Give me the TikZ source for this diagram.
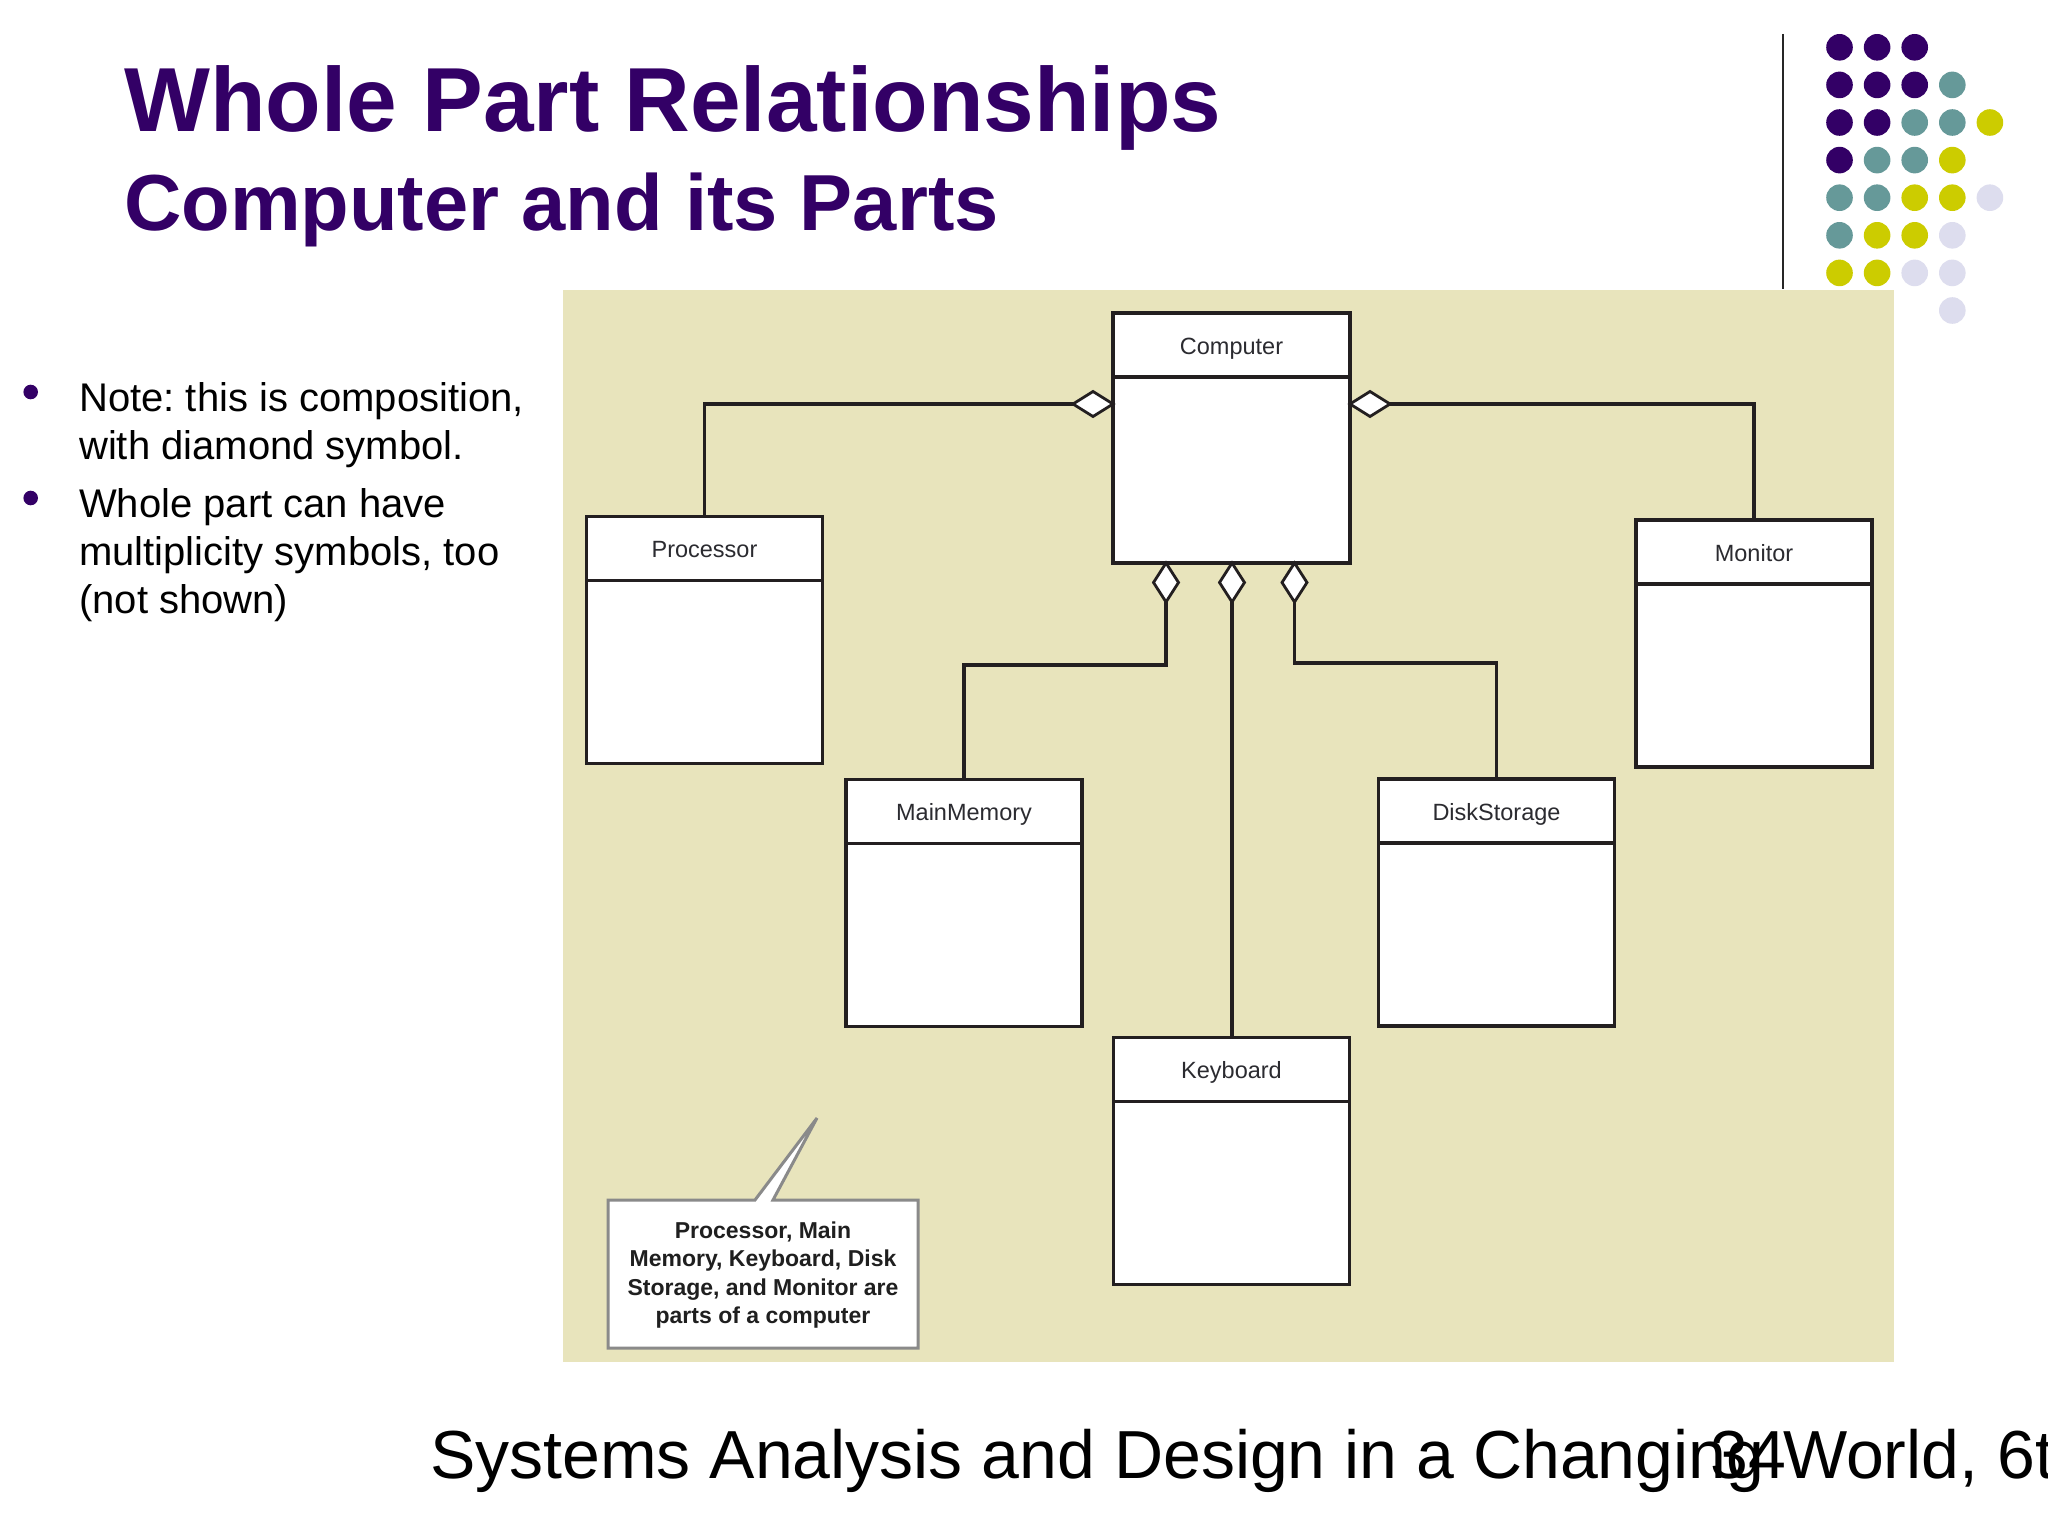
\documentclass[tikz,border=0pt]{standalone}
\usepackage{fontspec}
\setmainfont{Liberation Sans}
\usetikzlibrary{shapes.geometric}
\definecolor{ttl}{HTML}{330066}
\definecolor{dpur}{HTML}{330066}
\definecolor{dteal}{HTML}{669999}
\definecolor{dyel}{HTML}{CCCC00}
\definecolor{dlav}{HTML}{DDDDEE}
\definecolor{panel}{HTML}{E8E4BC}
\definecolor{umlline}{HTML}{231F20}
\definecolor{umltext}{HTML}{2B2B30}
\definecolor{notegray}{HTML}{8A8A8A}
\frenchspacing
\begin{document}
\begin{tikzpicture}[x=1pt,y=-1pt,
  classbox/.style={draw=umlline, line width=3.3pt, fill=white, minimum width=236pt, minimum height=247pt, inner sep=0pt, outer sep=0pt},
  classname/.style={text=umltext, font=\fontsize{23.5}{28}\selectfont, inner sep=0pt, anchor=base},
  agg/.style={diamond, draw=umlline, fill=white, line width=2.8pt, inner sep=0pt, outer sep=0pt},
  hagg/.style={agg, minimum width=40pt, minimum height=25pt},
  vagg/.style={agg, minimum width=25pt, minimum height=39pt},
  link/.style={draw=umlline, line width=3.3pt},
  bdot/.style={circle, inner sep=0pt, minimum size=26.6pt},
  titlefont/.style={text=ttl, inner sep=0pt, anchor=base west},
  bullettext/.style={inner sep=0pt, anchor=base west, font=\fontsize{40}{48}\selectfont},
  notetext/.style={inner sep=0pt, anchor=base, text=black!88, font=\bfseries\fontsize{23}{28}\selectfont},
  foot/.style={inner sep=0pt, anchor=base west, font=\fontsize{68}{80}\selectfont}
]
\useasboundingbox (0,0) rectangle (2048,1536);
\clip (0,0) rectangle (2048,1536);
\fill[white] (0,0) rectangle (2048,1536);

% panel
\fill[panel] (563,290) rectangle (1894,1362);

% decorative line and dots
\draw[line width=2pt, black!85] (1783,34) -- (1783,289);
\foreach \c [count=\i from 0] in {dpur,dpur,dpur}{\node[bdot, fill=\c] (r0c\i) at (1839.5+37.6*\i, 47.3) {};}
\foreach \c [count=\i from 0] in {dpur,dpur,dpur,dteal}{\node[bdot, fill=\c] (r1c\i) at (1839.5+37.6*\i, 84.9) {};}
\foreach \c [count=\i from 0] in {dpur,dpur,dteal,dteal,dyel}{\node[bdot, fill=\c] (r2c\i) at (1839.5+37.6*\i, 122.5) {};}
\foreach \c [count=\i from 0] in {dpur,dteal,dteal,dyel}{\node[bdot, fill=\c] (r3c\i) at (1839.5+37.6*\i, 160.1) {};}
\foreach \c [count=\i from 0] in {dteal,dteal,dyel,dyel,dlav}{\node[bdot, fill=\c] (r4c\i) at (1839.5+37.6*\i, 197.7) {};}
\foreach \c [count=\i from 0] in {dteal,dyel,dyel,dlav}{\node[bdot, fill=\c] (r5c\i) at (1839.5+37.6*\i, 235.3) {};}
\foreach \c [count=\i from 0] in {dyel,dyel,dlav,dlav}{\node[bdot, fill=\c] (r6c\i) at (1839.5+37.6*\i, 272.9) {};}
\node[bdot, fill=dlav] (r7c3) at (1952.3, 310.5) {};

% titles
\node[titlefont, font=\bfseries\fontsize{91}{100}\selectfont] (title) at (124,131.5) {Whole Part Relationships};
\node[titlefont, font=\bfseries\fontsize{79.5}{90}\selectfont] (subtitle) at (124,230) {Computer and its Parts};

% bullets
\fill[dpur] (30.7,392) circle (7.3);
\fill[dpur] (30.7,498) circle (7.3);
\node[bullettext] (b1) at (79,411) {Note: this is composition,};
\node[bullettext] (b2) at (79,459) {with diamond symbol.};
\node[bullettext] (b3) at (79,517.5) {Whole part can have};
\node[bullettext] (b4) at (79,565.5) {multiplicity symbols, too};
\node[bullettext] (b5) at (79,613.5) {(not shown)};

% class boxes
\node[classbox, minimum width=237pt, minimum height=250pt] (comp) at (1231.5,438) {};
\node[classbox] (proc) at (704.5,640) {};
\node[classbox] (mon) at (1754,643.5) {};
\node[classbox] (mem) at (964,903) {};
\node[classbox] (disk) at (1496.5,902.5) {};
\node[classbox] (kb) at (1231.5,1161) {};
\foreach \b/\t in {comp/Computer,proc/Processor,mon/Monitor,mem/MainMemory,disk/DiskStorage,kb/Keyboard}{
  \draw[link] ([yshift=-64pt]\b.north west) -- ([yshift=-64pt]\b.north east);
  \node[classname] (\b-name) at ([yshift=-41pt]\b.north) {\t};
}

% composition diamonds
\node[hagg] (dL) at (1093,404) {};
\node[hagg] (dR) at (1370,404) {};
\node[vagg] (d1) at (1166,582.5) {};
\node[vagg] (d2) at (1232,582.5) {};
\node[vagg] (d3) at (1294.5,582.5) {};

% connectors
\draw[link] (dL.west) -| (proc.north);
\draw[link] (dR.east) -| (mon.north);
\draw[link] (d1.south) -- ++(0,63) -| (mem.north);
\draw[link] (d2.south) -- (d2.south |- kb.north);
\draw[link] (d3.south) -- ++(0,61) -| (disk.north);

% callout note
\draw[notegray, line width=3pt, fill=white, line join=miter]
  (608,1200) -- (755,1200) -- (817,1118) -- (773,1200) -- (918,1200) -- (918,1348) -- (608,1348) -- cycle;
\node[notetext] (n1) at (763,1238.5) {Processor, Main};
\node[notetext] (n2) at (763,1266.8) {Memory, Keyboard, Disk};
\node[notetext] (n3) at (763,1295.1) {Storage, and Monitor are};
\node[notetext] (n4) at (763,1323.4) {parts of a computer};

% footer
\node[foot] (footer) at (430,1478) {Systems Analysis and Design in a Changing World, 6th};
\node[foot] (pagenum) at (1710,1478) {34};
\end{tikzpicture}
\end{document}
